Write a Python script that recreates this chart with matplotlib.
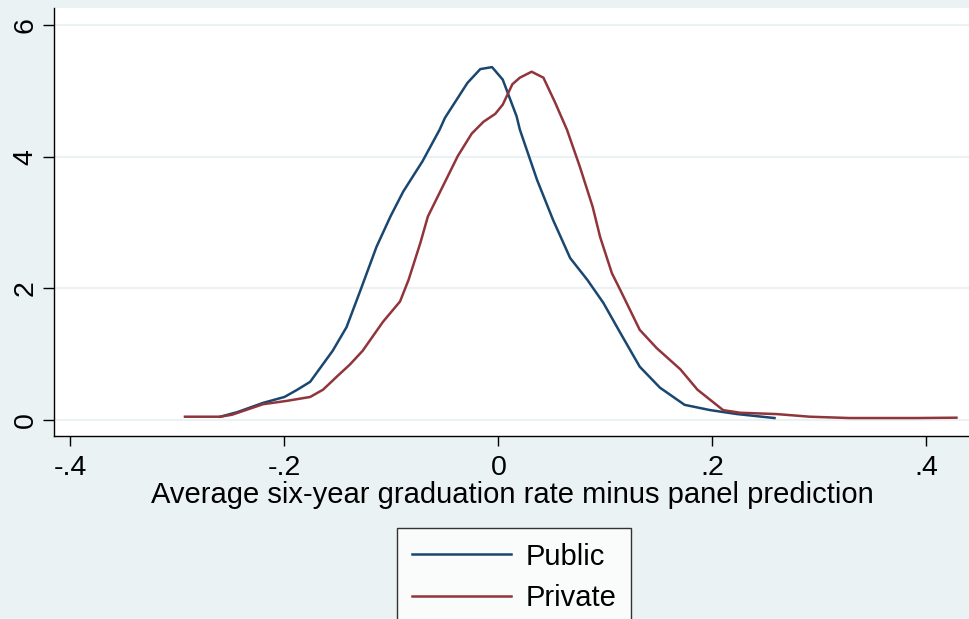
import numpy as np
import matplotlib.pyplot as plt
from matplotlib.lines import Line2D

# kernel density estimates of residual graduation rate, by sector
public_x = [-0.260, -0.244, -0.220, -0.200, -0.188, -0.176, -0.155, -0.142, -0.129,
            -0.114, -0.101, -0.089, -0.071, -0.055, -0.050, -0.029, -0.017, -0.006,
            0.004, 0.017, 0.020, 0.036, 0.051, 0.067, 0.083, 0.098, 0.114, 0.132,
            0.151, 0.174, 0.198, 0.223, 0.258]
public_y = [0.05, 0.12, 0.26, 0.35, 0.46, 0.58, 1.05, 1.41, 1.97,
            2.63, 3.09, 3.47, 3.93, 4.41, 4.59, 5.12, 5.33, 5.36,
            5.17, 4.61, 4.41, 3.65, 3.04, 2.46, 2.13, 1.78, 1.32, 0.81,
            0.49, 0.23, 0.15, 0.09, 0.03]

private_x = [-0.293, -0.260, -0.249, -0.220, -0.198, -0.176, -0.164, -0.151, -0.139,
             -0.127, -0.108, -0.092, -0.084, -0.073, -0.066, -0.052, -0.038, -0.025,
             -0.014, -0.003, 0.004, 0.013, 0.020, 0.031, 0.042, 0.053, 0.064, 0.076,
             0.088, 0.095, 0.106, 0.114, 0.132, 0.148, 0.170, 0.186, 0.210, 0.226,
             0.260, 0.291, 0.328, 0.359, 0.391, 0.428]
private_y = [0.05, 0.05, 0.08, 0.24, 0.29, 0.35, 0.46, 0.66, 0.84,
             1.05, 1.49, 1.80, 2.13, 2.69, 3.09, 3.55, 4.01, 4.35,
             4.53, 4.65, 4.79, 5.10, 5.20, 5.29, 5.20, 4.82, 4.41, 3.85,
             3.24, 2.78, 2.23, 1.97, 1.37, 1.09, 0.77, 0.46, 0.15, 0.11,
             0.09, 0.05, 0.03, 0.03, 0.03, 0.035]

x_ticks = [-0.4, -0.2, 0.0, 0.2, 0.4]
x_labels = ['-.4', '-.2', '0', '.2', '.4']
y_ticks = [0, 2, 4, 6]

BG = '#EAF2F3'
BLUE = '#1A476F'
RED = '#90353B'

plt.rcParams['font.family'] = ['Liberation Sans', 'DejaVu Sans']

fig = plt.figure(figsize=(9.70, 6.19), dpi=100, facecolor=BG)
ax = fig.add_axes([54 / 970, 1 - 436 / 619, 1 - 54 / 970, (436 - 8) / 619])
ax.set_facecolor('white')

ax.plot(public_x, public_y, color=BLUE, lw=1.8, label='Public', zorder=3)
ax.plot(private_x, private_y, color=RED, lw=1.8, label='Private', zorder=3)

ax.set_xlim(-0.4154, 0.4407)
ax.set_ylim(-0.243, 6.258)

ax.set_xticks(x_ticks)
ax.set_xticklabels(x_labels, fontsize=20.5)
ax.set_yticks(y_ticks)
ax.set_yticklabels([str(v) for v in y_ticks], fontsize=20.5, rotation=90, va='center')
ax.tick_params(axis='x', length=7.5, width=1.0, pad=6)
ax.tick_params(axis='y', length=8, width=1.0, pad=3)

ax.grid(axis='y', color=BG, lw=1.5, zorder=0)
ax.set_axisbelow(True)

for side in ['top', 'right']:
    ax.spines[side].set_visible(False)
for side in ['left', 'bottom']:
    ax.spines[side].set_linewidth(1.0)
    ax.spines[side].set_color('black')

ax.set_xlabel('Average six-year graduation rate minus panel prediction',
              fontsize=21, labelpad=0)

handles = [Line2D([], [], color=BLUE, lw=1.8), Line2D([], [], color=RED, lw=1.8)]
leg = fig.legend(handles, ['Public', 'Private'], loc='upper center',
                 bbox_to_anchor=(514 / 970, 1 - 528 / 619), fontsize=21,
                 frameon=True, fancybox=False, edgecolor='black', facecolor='white',
                 handlelength=3.4, handletextpad=0.5, labelspacing=0.46,
                 borderpad=0.5, borderaxespad=0)
leg.get_frame().set_linewidth(1.0)

fig.savefig('out.png', dpi=100, facecolor=BG)
